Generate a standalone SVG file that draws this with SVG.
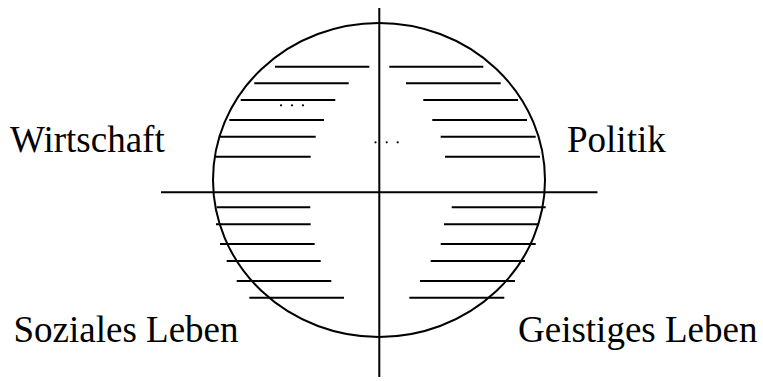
<svg xmlns="http://www.w3.org/2000/svg" width="763" height="381" viewBox="0 0 763 381">
<style>
.ln{stroke:#000;stroke-width:2;fill:none}
.dot{fill:#000}
.lbl{font-family:"Liberation Serif","Times New Roman",serif;font-size:37px;fill:#000}
</style>
<rect width="763" height="381" fill="#fff"/>
<g id="circle"><ellipse class="ln" cx="379" cy="180" rx="166" ry="157"/></g>
<g id="axes" class="ln">
<line x1="379.3" y1="8" x2="379.3" y2="377"/>
<line x1="161" y1="192.3" x2="597.5" y2="192.3"/>
</g>
<g id="lines-topleft" class="ln">
<line x1="275" y1="66.7" x2="369.3" y2="66.7"/>
<line x1="254.3" y1="83.3" x2="348.7" y2="83.3"/>
<line x1="240.7" y1="100" x2="335.3" y2="100"/>
<line x1="229.3" y1="120" x2="324" y2="120"/>
<line x1="220" y1="136.7" x2="315.7" y2="136.7"/>
<line x1="215.7" y1="156.7" x2="310.7" y2="156.7"/>
</g>
<g id="lines-topright" class="ln">
<line x1="389.3" y1="66.7" x2="483.3" y2="66.7"/>
<line x1="406" y1="83.3" x2="500.7" y2="83.3"/>
<line x1="423.3" y1="100" x2="518" y2="100"/>
<line x1="432.3" y1="120" x2="527" y2="120"/>
<line x1="440.7" y1="136.7" x2="535.7" y2="136.7"/>
<line x1="445" y1="156.7" x2="540" y2="156.7"/>
</g>
<g id="lines-bottomleft" class="ln">
<line x1="216.7" y1="207.3" x2="310.3" y2="207.3"/>
<line x1="216" y1="224.3" x2="310.7" y2="224.3"/>
<line x1="220" y1="244" x2="314.7" y2="244"/>
<line x1="226.7" y1="261" x2="320.7" y2="261"/>
<line x1="236.7" y1="281" x2="331.3" y2="281"/>
<line x1="249.3" y1="297.7" x2="344" y2="297.7"/>
</g>
<g id="lines-bottomright" class="ln">
<line x1="451.7" y1="207.3" x2="545.7" y2="207.3"/>
<line x1="444" y1="224.3" x2="538.7" y2="224.3"/>
<line x1="440.7" y1="244" x2="535.7" y2="244"/>
<line x1="430.7" y1="261" x2="525" y2="261"/>
<line x1="420" y1="281" x2="515" y2="281"/>
<line x1="409.3" y1="297.7" x2="504.3" y2="297.7"/>
</g>
<g id="dots">
<circle class="dot" cx="281" cy="105.3" r="1.1"/>
<circle class="dot" cx="292" cy="105.3" r="1.1"/>
<circle class="dot" cx="303" cy="105.3" r="1.1"/>
<circle class="dot" cx="375.5" cy="142.3" r="1.1"/>
<circle class="dot" cx="386.7" cy="142.3" r="1.1"/>
<circle class="dot" cx="397.7" cy="142.3" r="1.1"/>
</g>
<g id="wirtschaft"><text class="lbl" x="10" y="151.7">Wirtschaft</text></g>
<g id="politik"><text class="lbl" x="567" y="151.7">Politik</text></g>
<g id="soziales"><text class="lbl" x="13.5" y="342.3">Soziales Leben</text></g>
<g id="geistiges"><text class="lbl" x="518" y="342.3">Geistiges Leben</text></g>
</svg>
